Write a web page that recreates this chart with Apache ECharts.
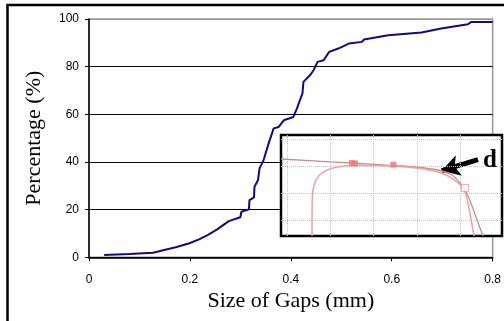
<!DOCTYPE html>
<html>
<head>
<meta charset="utf-8">
<script src="https://cdn.jsdelivr.net/npm/echarts@6/dist/echarts.min.js"></script>
<style>
  html, body { margin: 0; padding: 0; background: #fff; }
  #chart { width: 504px; height: 321px; }
</style>
</head>
<body>
<div id="chart"></div>
<script>
// main curve: cumulative percentage vs gap size
const gapSize = [0.03, 0.08, 0.127, 0.153, 0.172, 0.199, 0.218, 0.235, 0.254, 0.277, 0.300, 0.302,
    0.317, 0.318, 0.327, 0.328, 0.335, 0.338, 0.346, 0.350, 0.356, 0.366, 0.376, 0.386, 0.405,
    0.412, 0.418, 0.423, 0.425, 0.438, 0.445, 0.453, 0.465, 0.476, 0.494, 0.515, 0.541, 0.545,
    0.593, 0.659, 0.698, 0.751, 0.757, 0.800];
const percentage = [1.0, 1.4, 1.9, 3.3, 4.2, 5.9, 7.5, 9.3, 11.7, 15.2, 16.8, 19.1,
    20.1, 24.0, 25.1, 29.6, 32.4, 37.3, 40.8, 43.6, 47.8, 54.1, 54.7, 57.5, 58.9,
    62.4, 65.9, 68.7, 73.6, 76.4, 78.5, 82.0, 82.7, 86.2, 87.6, 89.7, 90.4, 91.4,
    93.2, 94.3, 96.0, 97.8, 98.7, 98.7];
const xTicks = [0, 0.2, 0.4, 0.6, 0.8];
const yTicks = [0, 20, 40, 60, 80, 100];

// inset picture (its own unit grid)
const insetGrayX = [-0.139, 0.993, 1.501, 2.356, 2.956, 3.533, 3.811, 3.995, 4.157, 4.273, 4.388, 4.527];
const insetGrayY = [2.259, 2.156, 2.111, 2.026, 1.963, 1.833, 1.667, 1.370, 0.963, 0.519, 0, -0.593];
const insetPinkX = [0.577, 0.582, 0.600, 0.670, 0.762, 0.901, 1.109, 1.339, 1.686, 2.448, 3.072,
    3.533, 3.834, 4.018, 4.134, 4.203, 4.261, 4.319];
const insetPinkY = [-0.593, 0.741, 1.111, 1.481, 1.685, 1.833, 1.944, 2.000, 2.030, 2.000, 1.907,
    1.759, 1.519, 1.259, 0.926, 0.444, -0.074, -0.593];
const insetMarkX = [1.501, 1.570, 2.455];
const insetMarkY = [2.111, 2.093, 2.048];
const insetOpenX = [4.111];
const insetOpenY = [1.185];
const insetGridX = [0, 1, 2, 3, 4];
const insetGridY = [0, 1, 2, 3];
const arrowFrom = [4.411, 2.233];
const arrowTo = [3.573, 1.826];
const insetLabel = 'd';

const zip = (xs, ys) => xs.map((x, i) => [x, ys[i]]);

const chart = echarts.init(document.getElementById('chart'));
const option = {
    animation: false,
    backgroundColor: '#fff',
    grid: [
        {
            left: 89, top: 19, width: 406, height: 238.3,
            show: true, borderColor: '#999', borderWidth: 1.5, backgroundColor: '#fff'
        },
        {
            left: 281, top: 135, width: 221, height: 101,
            show: true, borderColor: '#000', borderWidth: 2.5, backgroundColor: '#fff', z: 5
        }
    ],
    xAxis: [
        {
            gridIndex: 0, type: 'value', min: 0, max: 0.8, interval: 0.2, z: 1,
            name: 'Size of Gaps (mm)', nameLocation: 'middle', nameGap: 32,
            nameTextStyle: { fontFamily: 'Liberation Serif', fontSize: 22, color: '#000' },
            axisLine: { show: true, lineStyle: { color: '#000', width: 1.5 } },
            axisTick: { show: true, length: 4, lineStyle: { color: '#000' } },
            axisLabel: {
                margin: 16, fontFamily: 'Liberation Sans', fontSize: 12, color: '#000',
                formatter: v => xTicks.includes(+v.toFixed(1)) ? String(+v.toFixed(1)) : ''
            },
            splitLine: { show: false }
        },
        {
            gridIndex: 1, type: 'value', min: -0.139, max: 4.965, z: 6,
            axisLine: { show: false },
            axisTick: { show: false, customValues: insetGridX },
            axisLabel: { show: false, customValues: insetGridX },
            splitLine: { show: true, lineStyle: { color: '#c4c4c4', type: 'dotted', width: 1 } }
        }
    ],
    yAxis: [
        {
            gridIndex: 0, type: 'value', min: 0, max: 100, interval: 20, z: 1,
            name: 'Percentage (%)', nameLocation: 'middle', nameGap: 44, nameRotate: 90,
            nameTextStyle: { fontFamily: 'Liberation Serif', fontSize: 22, color: '#000' },
            axisLine: { show: true, lineStyle: { color: '#000', width: 1.5 } },
            axisTick: { show: true, length: 4, lineStyle: { color: '#000' } },
            axisLabel: {
                margin: 10, fontFamily: 'Liberation Sans', fontSize: 12, color: '#000',
                formatter: v => yTicks.includes(v) ? String(v) : ''
            },
            splitLine: {
                show: true,
                lineStyle: { color: ['#000', '#000', '#000', '#000', '#000', '#999'], width: 1 }
            }
        },
        {
            gridIndex: 1, type: 'value', min: -0.593, max: 3.148, z: 6,
            axisLine: { show: false },
            axisTick: { show: false, customValues: insetGridY },
            axisLabel: { show: false, customValues: insetGridY },
            splitLine: { show: true, lineStyle: { color: '#c4c4c4', type: 'dotted', width: 1 } }
        }
    ],
    series: [
        {
            type: 'line', xAxisIndex: 0, yAxisIndex: 0,
            data: zip(gapSize, percentage),
            showSymbol: false, z: 3,
            lineStyle: { color: '#0c0c86', width: 2 }
        },
        {
            type: 'line', xAxisIndex: 1, yAxisIndex: 1, smooth: 0.3,
            data: zip(insetGrayX, insetGrayY),
            showSymbol: false, z: 7,
            lineStyle: { color: '#c98c8c', width: 1.3 },
            markLine: {
                silent: true,
                symbol: ['none', 'arrow'], symbolSize: [16, 18],
                label: { show: false },
                lineStyle: { color: '#000', width: 5, type: 'solid', opacity: 1 },
                data: [[{ coord: arrowFrom }, { coord: arrowTo }]]
            }
        },
        {
            type: 'line', xAxisIndex: 1, yAxisIndex: 1, smooth: 0.3,
            data: zip(insetPinkX, insetPinkY),
            showSymbol: false, z: 7,
            lineStyle: { color: '#f4a0a0', width: 1.5 }
        },
        {
            type: 'scatter', xAxisIndex: 1, yAxisIndex: 1,
            data: zip(insetMarkX, insetMarkY),
            symbol: 'rect', symbolSize: 6, z: 8,
            itemStyle: { color: '#f37a7a', opacity: 0.85 }
        },
        {
            type: 'scatter', xAxisIndex: 1, yAxisIndex: 1,
            data: zip(insetOpenX, insetOpenY),
            symbol: 'rect', symbolSize: 7, z: 8,
            itemStyle: { color: '#fff', borderColor: '#f29a9a', borderWidth: 1 }
        }
    ],
    graphic: [
        {
            type: 'rect', z: 0, silent: true,
            shape: { x: 7.5, y: 5, width: 600, height: 400 },
            style: { fill: 'none', stroke: '#000', lineWidth: 2.5 }
        },
        {
            type: 'text', z: 20, silent: true,
            style: {
                text: insetLabel, x: 490, y: 161, align: 'center', verticalAlign: 'middle',
                font: 'bold 25px "Liberation Serif"', fill: '#000'
            }
        }
    ]
};
chart.setOption(option);
</script>
</body>
</html>
